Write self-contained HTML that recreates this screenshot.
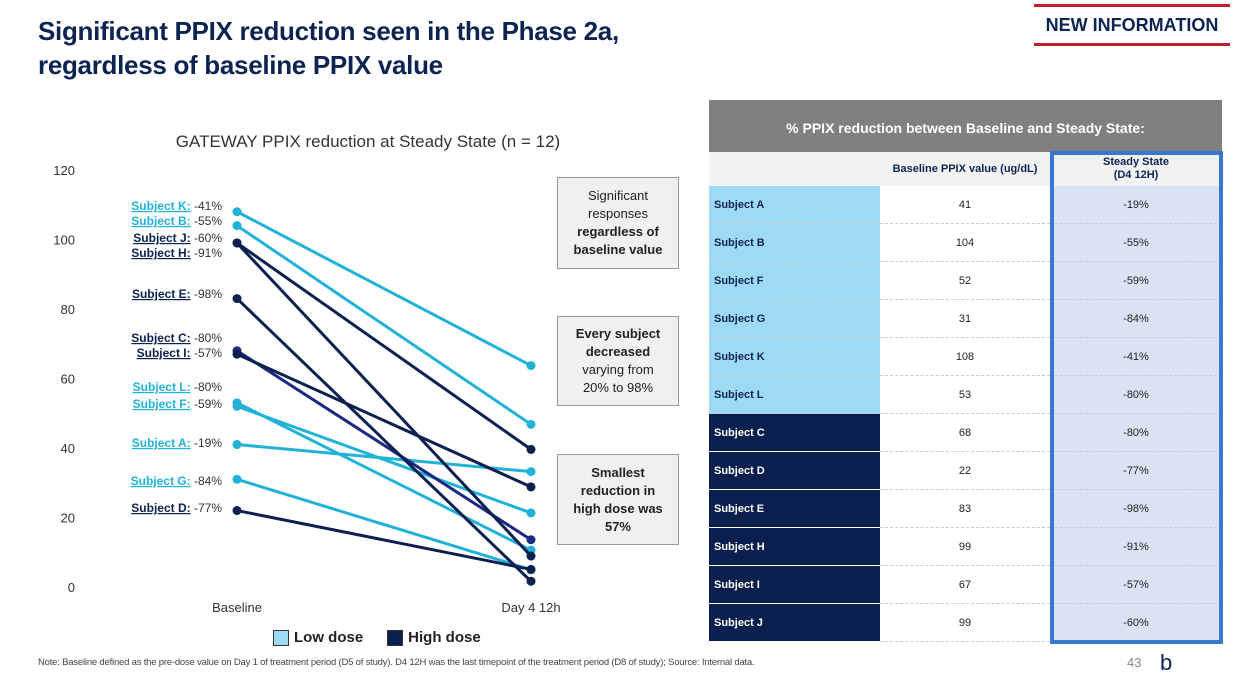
<!DOCTYPE html>
<html><head><meta charset="utf-8"><style>
body{margin:0;width:1235px;height:690px;background:#fff;font-family:"Liberation Sans",sans-serif;position:relative;overflow:hidden}
.abs{position:absolute}
.title{left:38px;top:14px;font-size:26px;font-weight:bold;color:#0d2453;line-height:34px;letter-spacing:-0.3px}
.newinfo{left:1034px;top:4px;width:196px;height:36px;border-top:3px solid #c0222b;border-bottom:3px solid #c0222b;color:#0d2453;font-weight:bold;font-size:18px;text-align:center;line-height:36px}
.call{background:#f0f0f0;border:1px solid #999;font-size:13px;color:#222;text-align:center;width:120px;display:flex;align-items:center;justify-content:center;line-height:18px}
.cell{position:absolute;box-sizing:border-box;font-size:11px;color:#222;display:flex;align-items:center;justify-content:center;border-bottom:1px dashed #ccc}
.lab{justify-content:flex-start;padding-left:5px;font-weight:bold;color:#0d2453;background:#9fdaf4}
.hi{background:#0a1f4e;color:#fff;border-bottom:1px solid #fff}
.ss{background:#dae3f3}
</style></head><body>
<div class="abs title">Significant PPIX reduction seen in the Phase 2a,<br>regardless of baseline PPIX value</div>
<div class="abs newinfo">NEW INFORMATION</div>
<svg class="abs" style="left:0;top:0" width="700" height="660" id="chart">
<text x="368" y="147" text-anchor="middle" font-size="17" fill="#333">GATEWAY PPIX reduction at Steady State (n = 12)</text>
</svg>
<div class="abs call" style="left:557px;top:177px;height:90px"><div>Significant<br>responses<br><b>regardless of<br>baseline value</b></div></div>
<div class="abs call" style="left:557px;top:316px;height:88px"><div><b>Every subject<br>decreased</b><br>varying from<br>20% to 98%</div></div>
<div class="abs call" style="left:557px;top:454px;height:89px"><div><b>Smallest<br>reduction in<br>high dose was<br>57%</b></div></div>
<div class="abs" style="left:273px;top:629px;font-size:15px;font-weight:bold;color:#222;display:flex;align-items:center">
<span style="width:14px;height:14px;background:#9fdaf4;border:1px solid #333;display:inline-block;margin-right:5px"></span><span>Low dose</span>
<span style="width:14px;height:14px;background:#0a1f4e;border:1px solid #333;display:inline-block;margin:0 5px 0 24px"></span><span>High dose</span></div>
<div class="abs" style="left:709px;top:100px;width:513px;height:52px;background:#808080;color:#fff;font-weight:bold;font-size:14px;text-align:center;line-height:56px">% PPIX reduction between Baseline and Steady State:</div>
<div id="tb">
<div class="cell" style="left:709px;top:152px;width:513px;height:34px;background:#f2f2f2;border:none"></div>
<div class="cell" style="left:880px;top:152px;width:170px;height:34px;font-weight:bold;color:#0d2453;border:none">Baseline PPIX value (ug/dL)</div>
<div class="cell" style="left:1050px;top:152px;width:172px;height:34px;font-weight:bold;color:#0d2453;border:none;text-align:center;line-height:13px">Steady State<br>(D4 12H)</div>
</div>
<div class="abs" style="left:1050px;top:151px;width:165px;height:485px;border:4px solid #3a78d0"></div>
<div class="abs" style="left:38px;top:657px;font-size:9.5px;color:#444;letter-spacing:-0.2px">Note: Baseline defined as the pre-dose value on Day 1 of treatment period (D5 of study). D4 12H was the last timepoint of the treatment period (D8 of study); Source: Internal data.</div>
<div class="abs" style="left:1127px;top:655px;font-size:13px;color:#888">43</div>
<div class="abs" style="left:1160px;top:650px;font-size:22px;color:#0d2453">b</div>
<script>
const subjects=["A","B","F","G","K","L","C","D","E","H","I","J"];
const doses=["low","low","low","low","low","low","high","high","high","high","high","high"];
const baseline=[41,104,52,31,108,53,68,22,83,99,67,99];
const reduction=[-19,-55,-59,-84,-41,-80,-80,-77,-98,-91,-57,-60];
const yTicks=[0,20,40,60,80,100,120];
const xCats=["Baseline","Day 4 12h"];
const labelY=[443,221,404,481,206,387,338,508,294,253,353,238];
const NS="http://www.w3.org/2000/svg";
const svg=document.getElementById('chart');
const y=v=>587-v*(417/120);
const x=i=>237+i*294;
function mk(t,a){const e=document.createElementNS(NS,t);for(const k in a)e.setAttribute(k,a[k]);svg.appendChild(e);return e;}
yTicks.forEach(v=>{const t=mk('text',{x:75,y:y(v)+5,'text-anchor':'end','font-size':13,fill:'#333'});t.textContent=v;

});
xCats.forEach((c,i)=>{const t=mk('text',{x:x(i),y:612,'text-anchor':'middle','font-size':13,fill:'#333'});t.textContent=c;

});
const tb=document.getElementById('tb');
function cell(cls,left,top,w,txt){const d=document.createElement('div');d.className='cell '+cls;d.style.cssText='left:'+left+'px;top:'+top+'px;width:'+w+'px;height:38px';d.textContent=txt;tb.appendChild(d);return d;}
subjects.forEach((s,i)=>{
const col=doses[i]=="low"?"#22b2d8":(s=="C"?"#1b2a80":"#0c2150");
const v2=baseline[i]*(1+reduction[i]/100);
const l=mk('line',{x1:x(0),y1:y(baseline[i]),x2:x(1),y2:y(v2),stroke:col,'stroke-width':3});


[[0,baseline[i]],[1,v2]].forEach(p=>{const c=mk('circle',{cx:x(p[0]),cy:y(p[1]),r:4.5,fill:col});

});
const t=mk('text',{x:222,y:labelY[i]+4,'text-anchor':'end','font-size':12});
t.innerHTML='<tspan font-weight="bold" text-decoration="underline" fill="'+(doses[i]=="low"?"#22b2d8":"#0c2150")+'">Subject '+s+':</tspan><tspan fill="#333"> '+reduction[i]+'%</tspan>';


const top=186+i*38;
const hi=doses[i]=="high";
const a=cell('lab'+(hi?' hi':''),709,top,171,'Subject '+s);


const b=cell('',880,top,170,baseline[i]);


const c=cell('ss',1050,top,172,reduction[i]+'%');


});
</script>
</body></html>
